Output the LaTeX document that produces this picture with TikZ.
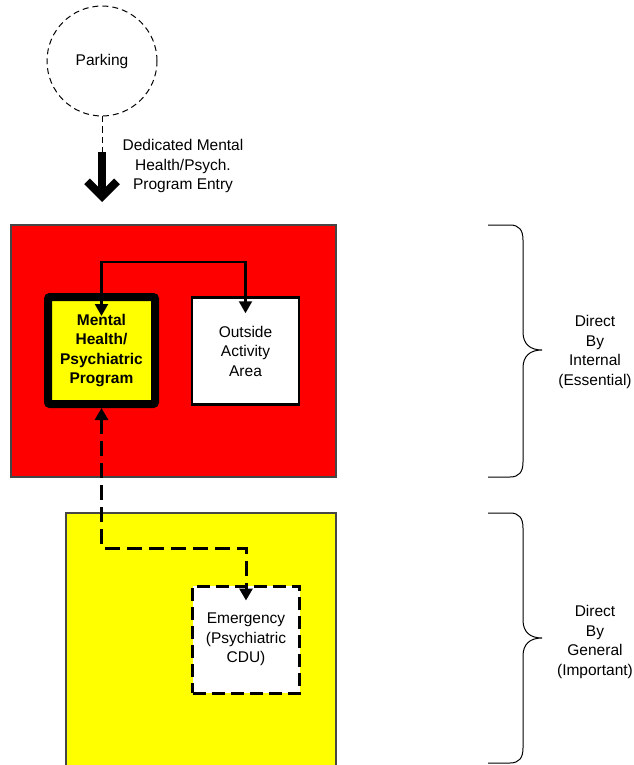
\documentclass[tikz,border=0pt]{standalone}
\usepackage{fontspec}
\setmainfont{Liberation Sans}
\usetikzlibrary{arrows.meta}
\definecolor{zoneedge}{RGB}{70,70,70}
\definecolor{zonered}{RGB}{255,0,0}
\definecolor{zoneyellow}{RGB}{255,255,0}
\begin{document}
\begin{tikzpicture}[x=1pt,y=-1pt,
  every node/.style={font=\fontsize{15.5pt}{19.5pt}\selectfont, align=center, inner sep=0pt},
  zone/.style={draw=zoneedge, line width=1.2pt},
  room/.style={draw=black, fill=white, line width=2.5pt, minimum width=107pt, minimum height=107pt},
  mainroom/.style={draw=black, fill=zoneyellow, line width=8pt, rounded corners=2pt,
    minimum width=107pt, minimum height=107pt, font=\fontsize{15.5pt}{19.5pt}\selectfont\bfseries},
  tempdash/.style={dash pattern=on 13pt off 6pt},
  tip/.style={Triangle[length=12pt,width=13pt]},
  link/.style={draw=black, line width=2.2pt},
  dlink/.style={draw=black, line width=3pt, dash pattern=on 15pt off 7pt},
  bracket/.style={draw=black, line width=1pt}
]
\useasboundingbox (0,0) rectangle (633,765);
\clip (0,0) rectangle (633,765);

% planning zones
\path[zone, fill=zonered] (11,225) rectangle (336,477);
\path[zone, fill=zoneyellow] (66,513) rectangle (336,780);

% parking and the dedicated entry
\node[circle, draw=black, line width=1pt, dash pattern=on 6pt off 4pt, minimum size=110pt] (park) at (102,61) {Parking};
\coordinate (shaft) at (102,152);
\coordinate (entry) at (102,202);
\draw[line width=1pt, dash pattern=on 6pt off 4pt] (park.south) -- (shaft);
\draw[line width=8pt, -{Straight Barb[length=15pt,width=30pt]}] (shaft) -- (entry);
\node (entrylabel) at (183,166) {Dedicated Mental\\Health/Psych.\\Program Entry};

% rooms
\node[mainroom] (mh) at (101.5,350.5) {Mental\\Health/\\Psychiatric\\Program};
\node[room] (oa) at (245.5,351) {Outside\\Activity\\Area};
\node[room, line width=3pt, tempdash] (er) at (246,639.5) {Emergency\\(Psychiatric\\CDU)};

% relationships
\draw[link, {Triangle[length=12pt,width=13pt]}-{Triangle[length=12pt,width=13pt]},
  shorten <=-23pt, shorten >=-17pt] (mh.north) -- ++(0,-31) -| (oa.north);
\draw[dlink, {Triangle[length=12pt,width=13pt]}-{Triangle[length=12pt,width=13pt]},
  shorten >=-16pt] (mh.south) -- ++(0,140) -| (er.north);

% adjacency braces
\draw[bracket] (488,225) -- (510,225) .. controls (519,225) and (523,230) .. (523,240)
  -- (523,332) .. controls (523,344) and (530,350) .. (542,350)
  .. controls (530,350) and (523,356) .. (523,368)
  -- (523,462) .. controls (523,472) and (519,477) .. (510,477) -- (488,477);
\node (essential) at (595,352) {Direct\\By\\Internal\\(Essential)};

\draw[bracket] (488,513) -- (510,513) .. controls (519,513) and (523,518) .. (523,528)
  -- (523,620) .. controls (523,632) and (530,638) .. (542,638)
  .. controls (530,638) and (523,644) .. (523,656)
  -- (523,748) .. controls (523,758) and (519,763) .. (510,763) -- (488,763);
\node (important) at (595,642) {Direct\\By\\General\\(Important)};
\end{tikzpicture}
\end{document}
